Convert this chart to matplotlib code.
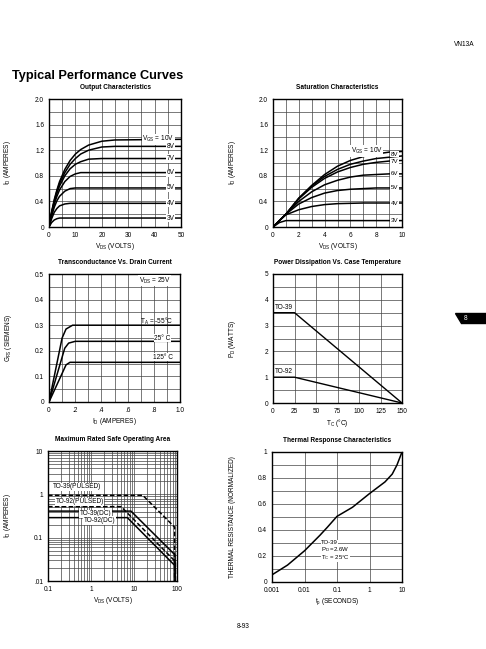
import matplotlib
matplotlib.use("Agg")
import matplotlib.pyplot as plt
from matplotlib.patches import Polygon

plt.rcParams['font.family'] = ['Liberation Sans', 'DejaVu Sans']
plt.rcParams['mathtext.fontset'] = 'custom'
plt.rcParams['mathtext.rm'] = 'Liberation Sans'
plt.rcParams['mathtext.it'] = 'Liberation Sans:italic'
plt.rcParams['mathtext.bf'] = 'Liberation Sans:bold'

# ---- data ----
# output characteristics, VDS 0..50 V
out_vds = [0, 1, 2, 3, 4, 6, 8, 10, 12, 15, 20, 25, 50]
out_id = [
    [0, 0.24, 0.43, 0.58, 0.71, 0.90, 1.04, 1.14, 1.21, 1.28, 1.34, 1.36, 1.37],
    [0, 0.23, 0.41, 0.56, 0.68, 0.85, 0.98, 1.07, 1.14, 1.20, 1.25, 1.26, 1.26],
    [0, 0.22, 0.39, 0.53, 0.64, 0.80, 0.91, 0.98, 1.02, 1.06, 1.07, 1.07, 1.07],
    [0, 0.20, 0.36, 0.48, 0.58, 0.71, 0.79, 0.83, 0.85, 0.85, 0.85, 0.85, 0.85],
    [0, 0.17, 0.31, 0.41, 0.48, 0.56, 0.60, 0.61, 0.61, 0.61, 0.61, 0.61, 0.61],
    [0, 0.13, 0.23, 0.29, 0.33, 0.36, 0.37, 0.37, 0.37, 0.37, 0.37, 0.37, 0.37],
    [0, 0.07, 0.11, 0.13, 0.14, 0.14, 0.14, 0.14, 0.14, 0.14, 0.14, 0.14, 0.14],
]
vgs_labels = ["= 10V", "8V", "7V", "6V", "5V", "4V", "3V"]

# saturation characteristics, VDS 0..10 V
sat_vds = [0, 0.5, 1, 2, 3, 4, 5, 6, 7, 8, 9, 10]
sat_id = [
    [0, 0.10, 0.20, 0.45, 0.65, 0.82, 0.95, 1.04, 1.10, 1.14, 1.17, 1.18],
    [0, 0.10, 0.20, 0.45, 0.64, 0.79, 0.90, 0.98, 1.03, 1.07, 1.09, 1.11],
    [0, 0.10, 0.20, 0.44, 0.62, 0.76, 0.86, 0.93, 0.98, 1.01, 1.03, 1.04],
    [0, 0.10, 0.20, 0.40, 0.55, 0.66, 0.73, 0.78, 0.81, 0.82, 0.83, 0.83],
    [0, 0.10, 0.20, 0.36, 0.46, 0.53, 0.57, 0.59, 0.60, 0.61, 0.61, 0.61],
    [0, 0.10, 0.19, 0.27, 0.32, 0.35, 0.365, 0.37, 0.375, 0.375, 0.375, 0.375],
    [0, 0.07, 0.10, 0.10, 0.10, 0.10, 0.10, 0.10, 0.10, 0.10, 0.10, 0.10],
]
sat_label_y = [1.19, 1.135, 1.025, 0.83, 0.61, 0.365, 0.10]

# transconductance vs drain current
gfs_id = [[0, 0.10, 0.13, 0.18, 1.0], [0, 0.12, 0.15, 0.20, 1.0], [0, 0.13, 0.16, 1.0]]
gfs_val = [[0, 0.25, 0.285, 0.30, 0.30], [0, 0.21, 0.23, 0.237, 0.237], [0, 0.145, 0.155, 0.155]]
ta_labels = [r"$\mathregular{T_A}$ = -55°C", "25° C", "125° C"]

# power dissipation vs case temperature
pd_tc = [0, 25, 150]
pd_to39 = [3.5, 3.5, 0]
pd_to92 = [1.0, 1.0, 0]

# safe operating area
soa_x = [[0.1, 16, 88, 88], [0.1, 5, 92, 92], [0.1, 8.5, 90, 90], [0.1, 7, 90, 90]]
soa_y = [[0.95, 0.95, 0.175, 0.01], [0.52, 0.52, 0.028, 0.01],
         [0.41, 0.41, 0.04, 0.01], [0.29, 0.29, 0.0225, 0.01]]
soa_dashed = [True, True, False, False]

# thermal response
th_t = [0.001, 0.003, 0.01, 0.03, 0.05, 0.1, 0.3, 1, 3, 5, 7, 10]
th_r = [0.055, 0.13, 0.24, 0.36, 0.42, 0.505, 0.575, 0.68, 0.77, 0.83, 0.90, 1.0]

W, H = 486, 649
fig = plt.figure(figsize=(W / 100, H / 100), dpi=100)
FS = 4.7


def add_ax(x0, y0, x1, y1):
    return fig.add_axes([x0 / W, 1 - y1 / H, (x1 - x0) / W, (y1 - y0) / H])


def style(ax, title, xlabel, ylabel, ylab_x):
    ax.set_title(title, fontsize=FS, fontweight='bold', pad=7)
    ax.set_xlabel(xlabel, fontsize=FS, labelpad=1.5)
    ax.set_ylabel(ylabel, fontsize=FS)
    ax.yaxis.set_label_coords(ylab_x, 0.5)
    ax.tick_params(which='both', length=0, labelsize=FS, pad=3.5)
    ax.grid(True, which='both', color='#444444', lw=0.5)
    ax.set_axisbelow(True)
    for s in ax.spines.values():
        s.set_linewidth(1.0)


lbl_box = dict(facecolor='white', edgecolor='none', pad=0.4)
small_box = dict(facecolor='white', edgecolor='none', pad=0.1)
id_label = r"$\mathregular{I_D}$ (AMPERES)"
vds_label = r"$\mathregular{V_{DS}}$ (VOLTS)"

# Output characteristics
ax = add_ax(49, 99, 181, 227)
for ys in out_id:
    ax.plot(out_vds, ys, color='black', lw=1.1)
for ys, lab in zip(out_id, vgs_labels):
    if lab.startswith("="):
        lab = r"$\mathregular{V_{GS}}$ " + lab
    ax.text(47.5, ys[-1], lab, fontsize=FS, ha='right', va='center', bbox=lbl_box)
ax.set_xlim(0, 50)
ax.set_ylim(0, 2.0)
ax.set_xticks([0, 10, 20, 30, 40, 50])
ax.set_xticks(range(5, 50, 10), minor=True)
ax.set_yticks([0, 0.4, 0.8, 1.2, 1.6, 2.0], ["0", "0.4", "0.8", "1.2", "1.6", "2.0"])
ax.set_yticks([0.2, 0.6, 1.0, 1.4, 1.8], minor=True)
style(ax, "Output Characteristics", vds_label, id_label, -0.27)

# Saturation characteristics
ax = add_ax(273, 99, 402, 227)
for ys in sat_id:
    ax.plot(sat_vds, ys, color='black', lw=1.1)
for ly, lab in zip(sat_label_y, vgs_labels):
    if lab.startswith("="):
        ax.text(8.5, ly, r"$\mathregular{V_{GS}}$ " + lab, fontsize=FS, ha='right', va='center',
                bbox=lbl_box)
    else:
        ax.text(9.7, ly, lab, fontsize=FS - 0.3, ha='right', va='center', bbox=lbl_box)
ax.set_xlim(0, 10)
ax.set_ylim(0, 2.0)
ax.set_xticks([0, 2, 4, 6, 8, 10])
ax.set_xticks([1, 3, 5, 7, 9], minor=True)
ax.set_yticks([0, 0.4, 0.8, 1.2, 1.6, 2.0], ["0", "0.4", "0.8", "1.2", "1.6", "2.0"])
ax.set_yticks([0.2, 0.6, 1.0, 1.4, 1.8], minor=True)
style(ax, "Saturation Characteristics", vds_label, id_label, -0.27)

# Transconductance vs drain current
ax = add_ax(49, 274, 180, 402)
for xs, ys in zip(gfs_id, gfs_val):
    ax.plot(xs, ys, color='black', lw=1.1)
ax.text(0.93, 0.475, r"$\mathregular{V_{DS}}$ = 25V", fontsize=FS, ha='right', va='center', bbox=lbl_box)
ax.text(0.95, 0.313, ta_labels[0], fontsize=FS, ha='right', va='center')
ax.text(0.93, 0.25, ta_labels[1], fontsize=FS, ha='right', va='center', bbox=lbl_box)
ax.text(0.95, 0.175, ta_labels[2], fontsize=FS, ha='right', va='center', bbox=lbl_box)
ax.set_xlim(0, 1.0)
ax.set_ylim(0, 0.5)
ax.set_xticks([0, 0.2, 0.4, 0.6, 0.8, 1.0], ["0", ".2", ".4", ".6", ".8", "1.0"])
ax.set_xticks([0.1, 0.3, 0.5, 0.7, 0.9], minor=True)
ax.set_yticks([0, 0.1, 0.2, 0.3, 0.4, 0.5], ["0", "0.1", "0.2", "0.3", "0.4", "0.5"])
ax.set_yticks([0.05, 0.15, 0.25, 0.35, 0.45], minor=True)
style(ax, "Transconductance Vs. Drain Current", r"$\mathregular{I_D}$ (AMPERES)",
      r"$\mathregular{G_{FS}}$ (SIEMENS)", -0.27)

# Power dissipation vs case temperature
ax = add_ax(273, 274, 402, 403)
ax.plot(pd_tc, pd_to39, color='black', lw=1.0)
ax.plot(pd_tc, pd_to92, color='black', lw=1.0)
ax.text(2, 3.58, "TO-39", fontsize=FS, ha='left', va='bottom')
ax.text(2, 1.08, "TO-92", fontsize=FS, ha='left', va='bottom')
ax.set_xlim(0, 150)
ax.set_ylim(0, 5)
ax.set_xticks([0, 25, 50, 75, 100, 125, 150])
ax.set_yticks([0, 1, 2, 3, 4, 5])
ax.set_yticks([0.5, 1.5, 2.5, 3.5, 4.5], minor=True)
style(ax, "Power Dissipation Vs. Case Temperature", r"$\mathregular{T_C}$ (°C)",
      r"$\mathregular{P_D}$ (WATTS)", -0.27)

# Safe operating area
ax = add_ax(48, 451, 177, 581)
for xs, ys, d in zip(soa_x, soa_y, soa_dashed):
    ax.plot(xs, ys, color='black', lw=1.1, ls=(0, (3, 1.5)) if d else '-')
ax.text(0.13, 1.25, "TO-39(PULSED)", fontsize=FS, ha='left', va='bottom', bbox=lbl_box)
ax.text(0.15, 0.68, "TO-92(PULSED)", fontsize=FS, ha='left', va='center', bbox=lbl_box)
ax.text(1.3, 0.355, "TO-39(DC)", fontsize=FS, ha='center', va='center', bbox=lbl_box)
ax.text(1.6, 0.25, "TO-92(DC)", fontsize=FS, ha='center', va='center', bbox=lbl_box)
ax.set_xscale('log')
ax.set_yscale('log')
ax.set_xlim(0.1, 100)
ax.set_ylim(0.01, 10)
ax.set_xticks([0.1, 1, 10, 100], ["0.1", "1", "10", "100"])
ax.set_yticks([0.01, 0.1, 1, 10], [".01", "0.1", "1", "10"])
style(ax, "Maximum Rated Safe Operating Area", vds_label, id_label, -0.27)
ax.tick_params(which='minor', labelleft=False, labelbottom=False)

# Thermal response
ax = add_ax(272, 452, 402, 582)
ax.plot(th_t, th_r, color='black', lw=1.1)
ax.text(0.032, 0.305, "TO-39", fontsize=4.3, ha='left', va='center', bbox=small_box)
ax.text(0.032, 0.25, r"$\mathregular{P_D}$ =2.6W", fontsize=4.3, ha='left', va='center',
        bbox=small_box)
ax.text(0.032, 0.19, r"$\mathregular{T_C}$ = 25°C", fontsize=4.3, ha='left', va='center',
        bbox=small_box)
ax.set_xscale('log')
ax.set_xlim(0.001, 10)
ax.set_ylim(0, 1)
ax.set_xticks([0.001, 0.01, 0.1, 1, 10], ["0.001", "0.01", "0.1", "1", "10"])
ax.set_xticks([], minor=True)
ax.set_yticks([0, 0.2, 0.4, 0.6, 0.8, 1.0], ["0", "0.2", "0.4", "0.6", "0.8", "1"])
ax.set_yticks([0.1, 0.3, 0.5, 0.7, 0.9], minor=True)
style(ax, "Thermal Response Characteristics", r"$\mathregular{t_p}$ (SECONDS)",
      "THERMAL RESISTANCE (NORMALIZED)", -0.28)

# page furniture
fig.text(12 / W, 1 - 76 / H, "Typical Performance Curves", fontsize=9.2, fontweight='bold',
         ha='left', va='center')
fig.text(464 / W, 1 - 45 / H, "VN13A", fontsize=FS, ha='center', va='center')
fig.text(243 / W, 1 - 627 / H, "8-93", fontsize=FS, ha='center', va='center')
tab = Polygon([(455 / W, 1 - 313 / H), (486 / W, 1 - 313 / H), (486 / W, 1 - 323 / H),
               (461 / W, 1 - 323 / H)], closed=True, color='black', transform=fig.transFigure)
fig.patches.append(tab)
fig.text(466 / W, 1 - 318 / H, "8", fontsize=FS, color='white', ha='center', va='center')

fig.savefig("out.png", dpi=100)
